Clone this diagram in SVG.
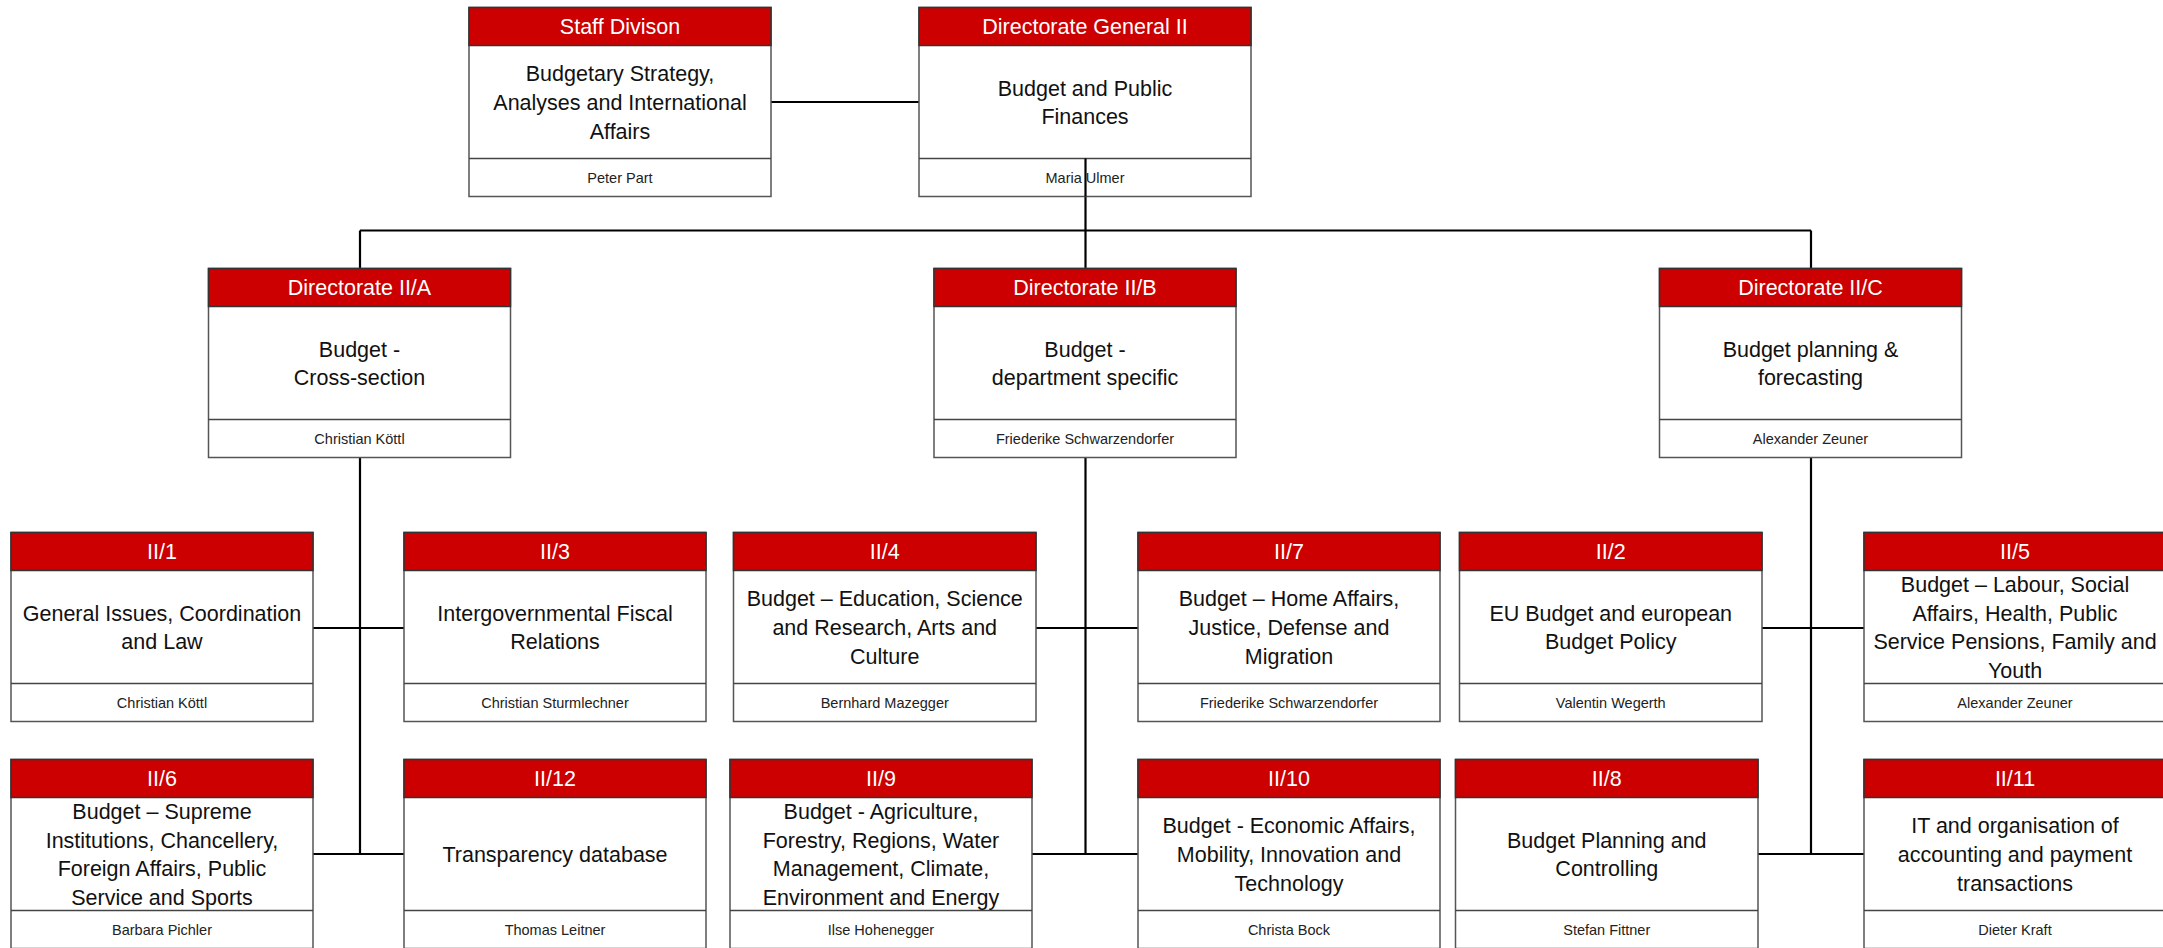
<svg xmlns="http://www.w3.org/2000/svg" width="2163" height="948" viewBox="0 0 2163 948">
<style>
.box{fill:#fff;stroke:#555;stroke-width:1.5}
.hdr{fill:#CC0000;stroke:#333;stroke-width:1.5}
.sep{stroke:#444;stroke-width:1.5}
.ht{font-family:"Liberation Sans",Arial,sans-serif;font-size:21.5px;fill:#fff;text-anchor:middle}
.bt{font-family:"Liberation Sans",Arial,sans-serif;font-size:21.5px;fill:#111;text-anchor:middle}
.ft{font-family:"Liberation Sans",Arial,sans-serif;font-size:14.5px;fill:#222;text-anchor:middle}
.con{stroke:#000;stroke-width:2.2;fill:none}
</style>
<rect width="2163" height="948" fill="#fff"/>

<g id="connectors">
<path class="con" d="M771 102H919"/>
<path class="con" d="M1085.5 158.5V268.5"/>
<path class="con" d="M360 230.5H1811"/>
<path class="con" d="M360 230.5V268.5M1811 230.5V268.5"/>
<path class="con" d="M360 457.5V854M313 628H404M313 854H404"/>
<path class="con" d="M1085.5 457.5V854M1036 628H1138M1032 854H1138"/>
<path class="con" d="M1811 457.5V854M1762 628H1864M1758 854H1864"/>
</g>

<g id="staff">
<rect class="box" x="469" y="7.5" width="302" height="189"/>
<rect class="hdr" x="469" y="7.5" width="302" height="38"/>
<line class="sep" x1="469" y1="158.5" x2="771" y2="158.5"/>
<text class="ht" x="620" y="34">Staff Divison</text>
<text class="bt" x="620" y="81.3">Budgetary Strategy,<tspan x="620" dy="28.7">Analyses and International</tspan><tspan x="620" dy="28.7">Affairs</tspan></text>
<text class="ft" x="620" y="183">Peter Part</text>
</g>

<g id="dg2">
<rect class="box" x="919" y="7.5" width="332" height="189"/>
<rect class="hdr" x="919" y="7.5" width="332" height="38"/>
<line class="sep" x1="919" y1="158.5" x2="1251" y2="158.5"/>
<text class="ht" x="1085" y="34">Directorate General II</text>
<text class="bt" x="1085" y="95.6">Budget and Public<tspan x="1085" dy="28.7">Finances</tspan></text>
<text class="ft" x="1085" y="183">Maria Ulmer</text>
</g>
<path class="con" d="M1085.5 158.5V196.5"/>

<g id="dirA">
<rect class="box" x="208.5" y="268.5" width="302" height="189"/>
<rect class="hdr" x="208.5" y="268.5" width="302" height="38"/>
<line class="sep" x1="208.5" y1="419.5" x2="510.5" y2="419.5"/>
<text class="ht" x="359.5" y="295">Directorate II/A</text>
<text class="bt" x="359.5" y="356.6">Budget -<tspan x="359.5" dy="28.7">Cross-section</tspan></text>
<text class="ft" x="359.5" y="444">Christian Köttl</text>
</g>

<g id="dirB">
<rect class="box" x="934" y="268.5" width="302" height="189"/>
<rect class="hdr" x="934" y="268.5" width="302" height="38"/>
<line class="sep" x1="934" y1="419.5" x2="1236" y2="419.5"/>
<text class="ht" x="1085" y="295">Directorate II/B</text>
<text class="bt" x="1085" y="356.6">Budget -<tspan x="1085" dy="28.7">department specific</tspan></text>
<text class="ft" x="1085" y="444">Friederike Schwarzendorfer</text>
</g>

<g id="dirC">
<rect class="box" x="1659.5" y="268.5" width="302" height="189"/>
<rect class="hdr" x="1659.5" y="268.5" width="302" height="38"/>
<line class="sep" x1="1659.5" y1="419.5" x2="1961.5" y2="419.5"/>
<text class="ht" x="1810.5" y="295">Directorate II/C</text>
<text class="bt" x="1810.5" y="356.6">Budget planning &amp;<tspan x="1810.5" dy="28.7">forecasting</tspan></text>
<text class="ft" x="1810.5" y="444">Alexander Zeuner</text>
</g>

<g id="u1">
<rect class="box" x="11" y="532.5" width="302" height="189"/>
<rect class="hdr" x="11" y="532.5" width="302" height="38"/>
<line class="sep" x1="11" y1="683.5" x2="313" y2="683.5"/>
<text class="ht" x="162" y="559">II/1</text>
<text class="bt" x="162" y="620.6">General Issues, Coordination<tspan x="162" dy="28.7">and Law</tspan></text>
<text class="ft" x="162" y="708">Christian Köttl</text>
</g>

<g id="u3">
<rect class="box" x="404" y="532.5" width="302" height="189"/>
<rect class="hdr" x="404" y="532.5" width="302" height="38"/>
<line class="sep" x1="404" y1="683.5" x2="706" y2="683.5"/>
<text class="ht" x="555" y="559">II/3</text>
<text class="bt" x="555" y="620.6">Intergovernmental Fiscal<tspan x="555" dy="28.7">Relations</tspan></text>
<text class="ft" x="555" y="708">Christian Sturmlechner</text>
</g>

<g id="u4">
<rect class="box" x="733.5" y="532.5" width="302.5" height="189"/>
<rect class="hdr" x="733.5" y="532.5" width="302.5" height="38"/>
<line class="sep" x1="733.5" y1="683.5" x2="1036" y2="683.5"/>
<text class="ht" x="884.75" y="559">II/4</text>
<text class="bt" x="884.75" y="606.3">Budget – Education, Science<tspan x="884.75" dy="28.7">and Research, Arts and</tspan><tspan x="884.75" dy="28.7">Culture</tspan></text>
<text class="ft" x="884.75" y="708">Bernhard Mazegger</text>
</g>

<g id="u7">
<rect class="box" x="1138" y="532.5" width="302" height="189"/>
<rect class="hdr" x="1138" y="532.5" width="302" height="38"/>
<line class="sep" x1="1138" y1="683.5" x2="1440" y2="683.5"/>
<text class="ht" x="1289" y="559">II/7</text>
<text class="bt" x="1289" y="606.3">Budget – Home Affairs,<tspan x="1289" dy="28.7">Justice, Defense and</tspan><tspan x="1289" dy="28.7">Migration</tspan></text>
<text class="ft" x="1289" y="708">Friederike Schwarzendorfer</text>
</g>

<g id="u2">
<rect class="box" x="1459.5" y="532.5" width="302.5" height="189"/>
<rect class="hdr" x="1459.5" y="532.5" width="302.5" height="38"/>
<line class="sep" x1="1459.5" y1="683.5" x2="1762" y2="683.5"/>
<text class="ht" x="1610.75" y="559">II/2</text>
<text class="bt" x="1610.75" y="620.6">EU Budget and european<tspan x="1610.75" dy="28.7">Budget Policy</tspan></text>
<text class="ft" x="1610.75" y="708">Valentin Wegerth</text>
</g>

<g id="u5">
<rect class="box" x="1864" y="532.5" width="302" height="189"/>
<rect class="hdr" x="1864" y="532.5" width="302" height="38"/>
<line class="sep" x1="1864" y1="683.5" x2="2166" y2="683.5"/>
<text class="ht" x="2015" y="559">II/5</text>
<text class="bt" x="2015" y="592">Budget – Labour, Social<tspan x="2015" dy="28.7">Affairs, Health, Public</tspan><tspan x="2015" dy="28.7">Service Pensions, Family and</tspan><tspan x="2015" dy="28.7">Youth</tspan></text>
<text class="ft" x="2015" y="708">Alexander Zeuner</text>
</g>

<g id="u6">
<rect class="box" x="11" y="759.5" width="302" height="189"/>
<rect class="hdr" x="11" y="759.5" width="302" height="38"/>
<line class="sep" x1="11" y1="910.5" x2="313" y2="910.5"/>
<text class="ht" x="162" y="786">II/6</text>
<text class="bt" x="162" y="819">Budget – Supreme<tspan x="162" dy="28.7">Institutions, Chancellery,</tspan><tspan x="162" dy="28.7">Foreign Affairs, Public</tspan><tspan x="162" dy="28.7">Service and Sports</tspan></text>
<text class="ft" x="162" y="935">Barbara Pichler</text>
</g>

<g id="u12">
<rect class="box" x="404" y="759.5" width="302" height="189"/>
<rect class="hdr" x="404" y="759.5" width="302" height="38"/>
<line class="sep" x1="404" y1="910.5" x2="706" y2="910.5"/>
<text class="ht" x="555" y="786">II/12</text>
<text class="bt" x="555" y="862">Transparency database</text>
<text class="ft" x="555" y="935">Thomas Leitner</text>
</g>

<g id="u9">
<rect class="box" x="730" y="759.5" width="302" height="189"/>
<rect class="hdr" x="730" y="759.5" width="302" height="38"/>
<line class="sep" x1="730" y1="910.5" x2="1032" y2="910.5"/>
<text class="ht" x="881" y="786">II/9</text>
<text class="bt" x="881" y="819">Budget - Agriculture,<tspan x="881" dy="28.7">Forestry, Regions, Water</tspan><tspan x="881" dy="28.7">Management, Climate,</tspan><tspan x="881" dy="28.7">Environment and Energy</tspan></text>
<text class="ft" x="881" y="935">Ilse Hohenegger</text>
</g>

<g id="u10">
<rect class="box" x="1138" y="759.5" width="302" height="189"/>
<rect class="hdr" x="1138" y="759.5" width="302" height="38"/>
<line class="sep" x1="1138" y1="910.5" x2="1440" y2="910.5"/>
<text class="ht" x="1289" y="786">II/10</text>
<text class="bt" x="1289" y="833.3">Budget - Economic Affairs,<tspan x="1289" dy="28.7">Mobility, Innovation and</tspan><tspan x="1289" dy="28.7">Technology</tspan></text>
<text class="ft" x="1289" y="935">Christa Bock</text>
</g>

<g id="u8">
<rect class="box" x="1455.5" y="759.5" width="302.5" height="189"/>
<rect class="hdr" x="1455.5" y="759.5" width="302.5" height="38"/>
<line class="sep" x1="1455.5" y1="910.5" x2="1758" y2="910.5"/>
<text class="ht" x="1606.75" y="786">II/8</text>
<text class="bt" x="1606.75" y="847.6">Budget Planning and<tspan x="1606.75" dy="28.7">Controlling</tspan></text>
<text class="ft" x="1606.75" y="935">Stefan Fittner</text>
</g>

<g id="u11">
<rect class="box" x="1864" y="759.5" width="302" height="189"/>
<rect class="hdr" x="1864" y="759.5" width="302" height="38"/>
<line class="sep" x1="1864" y1="910.5" x2="2166" y2="910.5"/>
<text class="ht" x="2015" y="786">II/11</text>
<text class="bt" x="2015" y="833.3">IT and organisation of<tspan x="2015" dy="28.7">accounting and payment</tspan><tspan x="2015" dy="28.7">transactions</tspan></text>
<text class="ft" x="2015" y="935">Dieter Kraft</text>
</g>
</svg>
